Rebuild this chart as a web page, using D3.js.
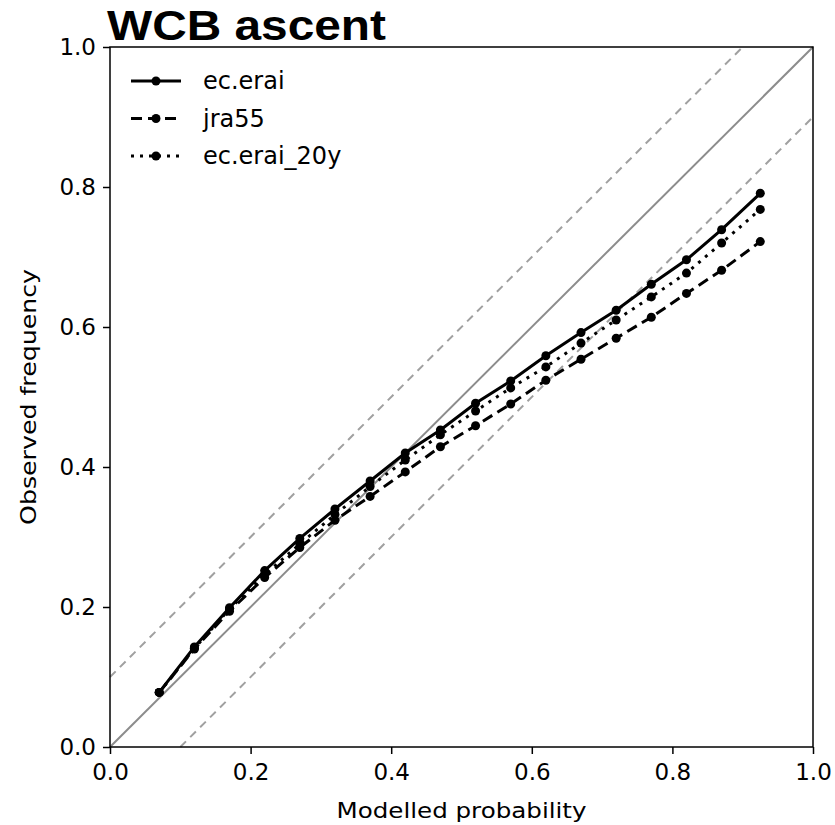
<!DOCTYPE html>
<html>
<head>
<meta charset="utf-8">
<script src="https://cdn.jsdelivr.net/npm/d3@7"></script>
<style>
  body { margin: 0; background: #fff; }
</style>
</head>
<body>
<script>
// bin centres (modelled probability)
var probs = [0.07, 0.12, 0.17, 0.22, 0.27, 0.32, 0.37, 0.42, 0.47, 0.52, 0.57, 0.62, 0.67, 0.72, 0.77, 0.82, 0.87, 0.925];

// observed frequencies per dataset
var ecErai   = [0.078, 0.143, 0.199, 0.252, 0.298, 0.340, 0.380, 0.420, 0.453, 0.491, 0.523, 0.559, 0.592, 0.624, 0.661, 0.696, 0.739, 0.791];
var jra55    = [0.078, 0.140, 0.194, 0.242, 0.285, 0.324, 0.358, 0.393, 0.429, 0.459, 0.490, 0.524, 0.554, 0.584, 0.614, 0.648, 0.681, 0.722];
var ecErai20 = [0.078, 0.141, 0.197, 0.246, 0.290, 0.332, 0.372, 0.410, 0.446, 0.480, 0.513, 0.543, 0.577, 0.610, 0.643, 0.677, 0.720, 0.768];

var seriesNames = ['ec.erai', 'jra55', 'ec.erai_20y'];
var ticks = [0.0, 0.2, 0.4, 0.6, 0.8, 1.0];

var width = 835,
    height = 825,
    margin = {left: 110, right: 22, top: 47, bottom: 78};

var font = '"DejaVu Sans", sans-serif';

var x = d3.scaleLinear().domain([0, 1]).range([margin.left, width - margin.right]),
    y = d3.scaleLinear().domain([0, 1]).range([height - margin.bottom, margin.top]);

var svg = d3.select('body').append('svg')
    .attr('width', width)
    .attr('height', height)
    .style('font-family', font);

// reference lines: perfect reliability and +-0.1
var refLines = [
    {off: 0, dash: null},
    {off: 0.1, dash: '8,6'},
    {off: -0.1, dash: '8,6'}
];
svg.append('g').selectAll('line')
    .data(refLines)
    .enter()
    .append('line')
    .attr('x1', d => x(Math.max(0, -d.off)))
    .attr('y1', d => y(Math.max(0, d.off)))
    .attr('x2', d => x(Math.min(1, 1 - d.off)))
    .attr('y2', d => y(Math.min(1, 1 + d.off)))
    .attr('stroke', d => d.dash ? '#a0a0a0' : '#8c8c8c')
    .attr('stroke-width', 2)
    .attr('stroke-dasharray', d => d.dash);

var series = [
    {name: seriesNames[0], vals: ecErai, dash: null},
    {name: seriesNames[1], vals: jra55, dash: '11,6'},
    {name: seriesNames[2], vals: ecErai20, dash: '3,6'}
];

var line = d3.line()
    .x(d => x(d[0]))
    .y(d => y(d[1]));

series.forEach(function(s) {
    var pts = probs.map((p, i) => [p, s.vals[i]]);
    var g = svg.append('g');
    g.append('path')
        .attr('d', line(pts))
        .attr('fill', 'none')
        .attr('stroke', '#000')
        .attr('stroke-width', 3)
        .attr('stroke-dasharray', s.dash);
    g.selectAll('circle')
        .data(pts)
        .enter()
        .append('circle')
        .attr('cx', d => x(d[0]))
        .attr('cy', d => y(d[1]))
        .attr('r', 4.5)
        .attr('fill', '#000');
});

// axes
var axisX = d3.axisBottom(x).tickValues(ticks).tickFormat(d3.format('.1f')).tickSize(7);
var axisY = d3.axisLeft(y).tickValues(ticks).tickFormat(d3.format('.1f')).tickSize(7);

var gx = svg.append('g')
    .attr('transform', 'translate(0,' + (height - margin.bottom) + ')')
    .call(axisX);
gx.select('.domain').remove();
gx.selectAll('line').attr('stroke-width', 1.5);
gx.selectAll('text')
    .style('font-family', font)
    .style('font-size', '23px')
    .attr('fill', '#000')
    .attr('dy', null)
    .attr('y', 33);

var gy = svg.append('g')
    .attr('transform', 'translate(' + margin.left + ',0)')
    .call(axisY);
gy.select('.domain').remove();
gy.selectAll('line').attr('stroke-width', 1.5);
gy.selectAll('text')
    .style('font-family', font)
    .style('font-size', '23px')
    .attr('fill', '#000')
    .attr('x', -14);

// frame
svg.append('rect')
    .attr('x', x(0))
    .attr('y', y(1))
    .attr('width', x(1) - x(0))
    .attr('height', y(0) - y(1))
    .attr('fill', 'none')
    .attr('stroke', '#000')
    .attr('stroke-width', 1.5);

// axis titles
svg.append('text')
    .attr('x', (x(0) + x(1)) / 2)
    .attr('y', 818)
    .attr('text-anchor', 'middle')
    .style('font-size', '22px')
    .attr('textLength', 250)
    .attr('lengthAdjust', 'spacingAndGlyphs')
    .text('Modelled probability');

svg.append('text')
    .attr('transform', 'translate(36,' + (y(0) + y(1)) / 2 + ') rotate(-90)')
    .attr('text-anchor', 'middle')
    .style('font-size', '22px')
    .attr('textLength', 256)
    .attr('lengthAdjust', 'spacingAndGlyphs')
    .text('Observed frequency');

// title
svg.append('text')
    .attr('x', 107)
    .attr('y', 40)
    .style('font-family', '"Liberation Sans", Arial, sans-serif')
    .style('font-weight', 'bold')
    .style('font-size', '42px')
    .attr('textLength', 279)
    .attr('lengthAdjust', 'spacingAndGlyphs')
    .text('WCB ascent');

// legend
var legend = svg.append('g').selectAll('g')
    .data(series)
    .enter()
    .append('g')
    .attr('transform', (d, i) => 'translate(131,' + (81 + i * 37.5) + ')');
legend.append('line')
    .attr('x1', 0).attr('x2', 50)
    .attr('stroke', '#000')
    .attr('stroke-width', 3)
    .attr('stroke-dasharray', d => d.dash);
legend.append('circle')
    .attr('cx', 25)
    .attr('r', 4.5);
legend.append('text')
    .attr('x', 72)
    .attr('dy', '0.35em')
    .style('font-size', '24px')
    .text(d => d.name);
</script>
</body>
</html>
